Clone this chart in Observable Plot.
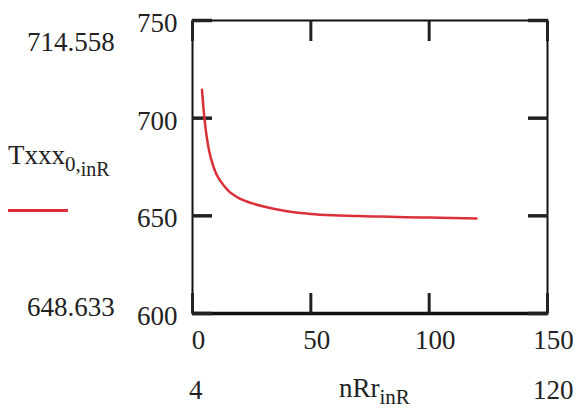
<!DOCTYPE html>
<html>
<head>
<meta charset="utf-8">
<script src="https://cdn.jsdelivr.net/npm/d3@7"></script>
<script src="https://cdn.jsdelivr.net/npm/@observablehq/plot@0.6"></script>
<style>
  html, body { margin: 0; padding: 0; background: #fff; }
  #wrap { position: relative; width: 579px; height: 410px; font-family: 'Liberation Serif'; color: #222; }
  .lbl { position: absolute; font-family: 'Liberation Serif'; font-size: 27px; line-height: 1; white-space: nowrap; }
  .sub { font-size: 21px; position: relative; top: 7px; }
  .sub2 { font-size: 20px; position: relative; top: 5px; }
</style>
</head>
<body>
<div id="wrap"></div>
<script>
// Data
const nR = [4, 5, 6, 7, 8, 10, 12, 15, 20, 25, 30, 40, 50, 60, 70, 80, 90, 100, 110, 120];
const Txxx = [714.558, 700.5, 690.5, 683.5, 678.5, 671.5, 667.5, 663.0, 658.8, 656.5, 654.8, 652.4, 651.0, 650.3, 649.9, 649.6, 649.3, 649.1, 648.9, 648.633];
const xTicks = [0, 50, 100, 150];
const yTicks = [600, 650, 700, 750];
const yLabel = "Txxx";
const yLabelSub = "0,";
const yLabelSub2 = "inR";
const xLabel = "nRr";
const xLabelSub = "inR";

const data = nR.map((x, i) => ({x, y: Txxx[i]}));

const W = 579, H = 410;
const mLeft = 192, mRight = 32, mTop = 20, mBottom = 97;
const T = 20;
const serif = "Liberation Serif";

const chart = Plot.plot({
  width: W,
  height: H,
  marginLeft: mLeft,
  marginRight: mRight,
  marginTop: mTop,
  marginBottom: mBottom,
  style: {fontFamily: serif, fontSize: "27px", color: "#222", background: "transparent"},
  x: {domain: [0, 150]},
  y: {domain: [600, 750]},
  marks: [
    Plot.frame({stroke: "#111", strokeWidth: 2}),
    Plot.ruleY([600], {stroke: "#111", strokeWidth: 3.5}),
    // inward ticks
    Plot.axisX({anchor: "bottom", ticks: xTicks, tickSize: T, dy: -T, strokeWidth: 3, label: null, text: null}),
    Plot.axisX({anchor: "top", ticks: xTicks, tickSize: T, dy: T, strokeWidth: 3, label: null, text: null}),
    Plot.axisY({anchor: "left", ticks: yTicks, tickSize: T, dx: T, strokeWidth: 3.5, label: null, text: null}),
    Plot.axisY({anchor: "right", ticks: yTicks, tickSize: T, dx: -T, strokeWidth: 3.5, label: null, text: null}),
    // labels
    Plot.axisX({anchor: "bottom", ticks: xTicks, tickSize: 0, tickPadding: 16, label: null, dx: 6, fill: "#222", fontFamily: serif}),
    Plot.axisY({anchor: "left", ticks: yTicks, tickSize: 0, tickPadding: 15, label: null, dy: 3, fill: "#222", fontFamily: serif}),
    Plot.line(data, {x: "x", y: "y", stroke: "#dc3039", strokeWidth: 2.5, curve: "monotone-x"})
  ]
});

const wrap = document.getElementById("wrap");
wrap.appendChild(chart);

const yMax = d3.max(Txxx), yMin = d3.min(Txxx);
const xMin = d3.min(nR), xMax = d3.max(nR);

function addLabel(html, left, top) {
  const d = document.createElement("div");
  d.className = "lbl";
  d.innerHTML = html;
  d.style.left = left + "px";
  d.style.top = top + "px";
  wrap.appendChild(d);
  return d;
}
addLabel(d3.format(".3f")(yMax), 27, 29);
addLabel(yLabel + '<span class="sub">' + yLabelSub + '<span class="sub2">' + yLabelSub2 + '</span></span>', 8, 142);
addLabel(d3.format(".3f")(yMin), 27, 294);
addLabel(String(xMin), 189, 377);
addLabel(xLabel + '<span class="sub">' + xLabelSub + '</span>', 339, 375);
addLabel(String(xMax), 533, 377);

// legend swatch
const sw = document.createElement("div");
sw.style.cssText = "position:absolute;left:8px;top:209px;width:60px;height:3px;background:#dc3039;";
wrap.appendChild(sw);
</script>
</body>
</html>
